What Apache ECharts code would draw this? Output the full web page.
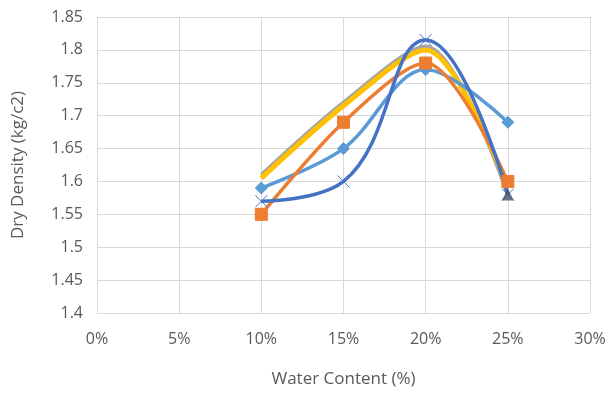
<!DOCTYPE html>
<html>
<head>
<meta charset="utf-8">
<script src="https://cdn.jsdelivr.net/npm/echarts@6/dist/echarts.min.js"></script>
<style>
  html, body { margin: 0; padding: 0; background: #fff; }
  #main { width: 612px; height: 393px; }
</style>
</head>
<body>
<div id="main"></div>
<script>
// water content (fraction) and dry density per sample
var waterContent = [0.10, 0.15, 0.20, 0.25];
var seriesLightBlue = [1.59, 1.65, 1.77, 1.69];
var seriesOrange = [1.55, 1.69, 1.78, 1.60];
var seriesGray = [1.61, 1.72, 1.805, 1.58];
var seriesYellow = [1.605, 1.715, 1.80, 1.59];
var seriesDarkBlue = [1.57, 1.60, 1.815, 1.58];

function pairs(vals){
	var out = [];
	for (var i = 0; i < vals.length; i++) out.push([waterContent[i], vals[i]]);
	return out;
}

function line(name, vals, color, symbol, size, width, smooth){
	return {
		name: name,
		type: 'line',
		smooth: smooth,
		data: pairs(vals),
		symbol: symbol,
		symbolSize: size,
		lineStyle: { color: color, width: width },
		itemStyle: { color: color, borderColor: color },
		z: 2
	};
}

var txt = '#595959';
var myChart = echarts.init(document.getElementById('main'));
myChart.setOption({
	animation: false,
	grid: { left: 97, right: 22, top: 17, bottom: 80 },
	xAxis: {
		type: 'value',
		min: 0, max: 0.3, interval: 0.05,
		name: 'Water Content (%)',
		nameLocation: 'middle',
		nameGap: 58,
		nameTextStyle: { color: txt, fontSize: 17, fontFamily: 'Open Sans' },
		axisLine: { show: false },
		axisTick: { show: false },
		axisLabel: {
			color: txt, fontSize: 16, fontFamily: 'Open Sans', margin: 18,
			formatter: function(v){ return Math.round(v * 100) + '%'; }
		},
		splitLine: { show: true, lineStyle: { color: '#d9d9d9', width: 1 } }
	},
	yAxis: {
		type: 'value',
		min: 1.4, max: 1.85, interval: 0.05,
		name: 'Dry Density (kg/c2)',
		nameLocation: 'middle',
		nameGap: 70,
		nameTextStyle: { color: txt, fontSize: 17, fontFamily: 'Open Sans' },
		axisLine: { show: false },
		axisTick: { show: false },
		axisLabel: {
			color: txt, fontSize: 16, fontFamily: 'Open Sans', margin: 14,
			formatter: function(v){ return String(parseFloat(v.toFixed(2))); }
		},
		splitLine: { show: true, lineStyle: { color: '#d9d9d9', width: 1 } }
	},
	series: [
		line('S3', seriesGray, '#A5A5A5', 'none', 0, 4, 0.3),
		line('S4', seriesYellow, '#FFC000', 'none', 0, 5, 0.3),
		line('S1', seriesLightBlue, '#5B9BD5', 'diamond', 12, 3.5, 0.35),
		line('S2', seriesOrange, '#ED7D31', 'rect', 12, 3.5, 0.3),
		line('S5', seriesDarkBlue, '#4472C4', 'path://M0,0L10,10M10,0L0,10', 12, 3.5, 0.45),
		{
			name: 'S3 marker', type: 'scatter', data: [[waterContent[3], seriesGray[3]]],
			symbol: 'triangle', symbolSize: 12, itemStyle: { color: '#44546A' }, z: 3
		}
	]
});
</script>
</body>
</html>
